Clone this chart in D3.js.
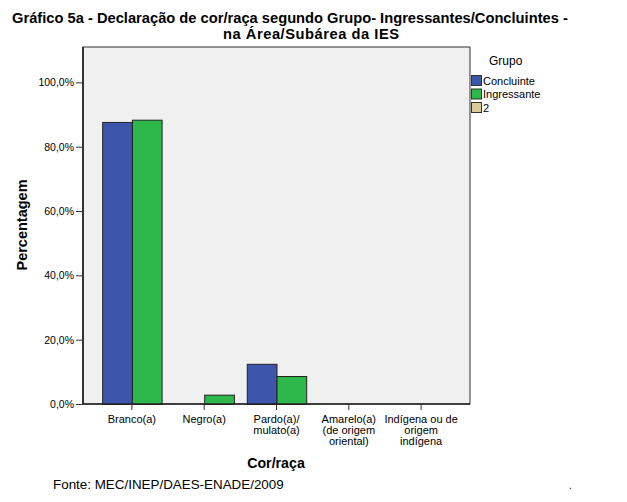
<!DOCTYPE html>
<html><head><meta charset="utf-8">
<script src="https://cdn.jsdelivr.net/npm/d3@7"></script>
<style>body{margin:0;background:#fff}svg{display:block}text{font-family:"Liberation Sans",Arial,sans-serif}</style>
</head><body>
<script>
const categories = [["Branco(a)"],["Negro(a)"],["Pardo(a)/","mulato(a)"],["Amarelo(a)","(de origem","oriental)"],["Indígena ou de","origem","indígena"]];
const seriesNames = ["Concluinte","Ingressante"];
const concluinte = [87.7, 0, 12.5, 0, 0];
const ingressante = [88.4, 2.9, 8.7, 0, 0];
const legendItems = ["Concluinte","Ingressante","2"];
const legendColors = ["#3d56ac","#2eb84b","#d8cc9a"];
const yTicks = [0,20,40,60,80,100];

const W=627,H=502;
const svg=d3.select("body").append("svg").attr("width",W).attr("height",H);
const L=83,R=470,T=47,B=404;
const x=d3.scaleBand().domain(d3.range(categories.length)).range([L,R]).paddingInner(0).paddingOuter(0.176);
const xs=d3.scaleBand().domain(seriesNames).range([0,x.bandwidth()]).paddingInner(0).paddingOuter(0.217);
const y=d3.scaleLinear().domain([0,111]).range([B,T]);

svg.append("rect").attr("x",L).attr("y",T).attr("width",R-L).attr("height",B-T).attr("fill","#f0f0f0").attr("stroke","#333").attr("stroke-width",1);

const series=[concluinte,ingressante];
series.forEach((vals,si)=>{
  svg.append("g").selectAll("rect").data(vals.map((v,i)=>({v,i})).filter(d=>d.v>0)).join("rect")
    .attr("x",d=>x(d.i)+xs(seriesNames[si])+0.5)
    .attr("y",d=>y(d.v)+0.5)
    .attr("width",xs.bandwidth())
    .attr("height",d=>B-y(d.v))
    .attr("fill",legendColors[si]).attr("stroke","#222").attr("stroke-width",1);
});

// y axis
const ya=svg.append("g").attr("transform",`translate(${L},0)`)
  .call(d3.axisLeft(y).tickValues(yTicks).tickSize(7).tickPadding(2).tickFormat(d=>d.toFixed(1).replace(".",",")+"%"));
ya.select(".domain").remove();
ya.selectAll("text").attr("font-size",10.5).attr("fill","#000").attr("font-family","Liberation Sans, Arial, sans-serif");
ya.selectAll("line").attr("stroke","#333");
svg.append("line").attr("x1",L).attr("x2",L).attr("y1",T).attr("y2",B).attr("stroke","#333").attr("stroke-width",2);
svg.append("line").attr("x1",L).attr("x2",R).attr("y1",B).attr("y2",B).attr("stroke","#222").attr("stroke-width",1.5);

// x axis
const xa=svg.append("g").attr("transform",`translate(0,${B})`)
  .call(d3.axisBottom(x).tickSize(6).tickFormat(""));
xa.select(".domain").remove();
xa.selectAll("line").attr("stroke","#333");
xa.selectAll(".tick").each(function(d){
  const t=d3.select(this).append("text").attr("fill","#000").attr("font-size",11).attr("text-anchor","middle").attr("y",18.5);
  categories[d].forEach((ln,k)=>t.append("tspan").attr("x",0).attr("dy",k?11:0).text(ln));
});

// titles
svg.append("text").attr("x",12).attr("y",23).attr("font-size",14.7).attr("font-weight","bold").text("Gráfico 5a - Declaração de cor/raça segundo Grupo- Ingressantes/Concluintes -");
svg.append("text").attr("x",311).attr("y",39).attr("font-size",14.7).attr("font-weight","bold").attr("text-anchor","middle").attr("textLength",176).attr("lengthAdjust","spacing").text("na Área/Subárea da IES");
svg.append("text").attr("transform","translate(27,225) rotate(-90)").attr("font-size",14.5).attr("font-weight","bold").attr("text-anchor","middle").text("Percentagem");
svg.append("text").attr("x",276).attr("y",468).attr("font-size",14.2).attr("font-weight","bold").attr("text-anchor","middle").text("Cor/raça");
svg.append("text").attr("x",53).attr("y",489).attr("font-size",13.4).text("Fonte: MEC/INEP/DAES-ENADE/2009");
svg.append("text").attr("x",569).attr("y",489).attr("font-size",10).text(".");

// legend
svg.append("text").attr("x",489).attr("y",65).attr("font-size",12).text("Grupo");
legendItems.forEach((n,i)=>{
  svg.append("rect").attr("x",471.5).attr("y",75.5+i*13.5).attr("width",10).attr("height",10).attr("fill",legendColors[i]).attr("stroke","#333").attr("stroke-width",1);
  svg.append("text").attr("x",483).attr("y",84.5+i*13.5).attr("font-size",11).text(n);
});
</script>
</body></html>
